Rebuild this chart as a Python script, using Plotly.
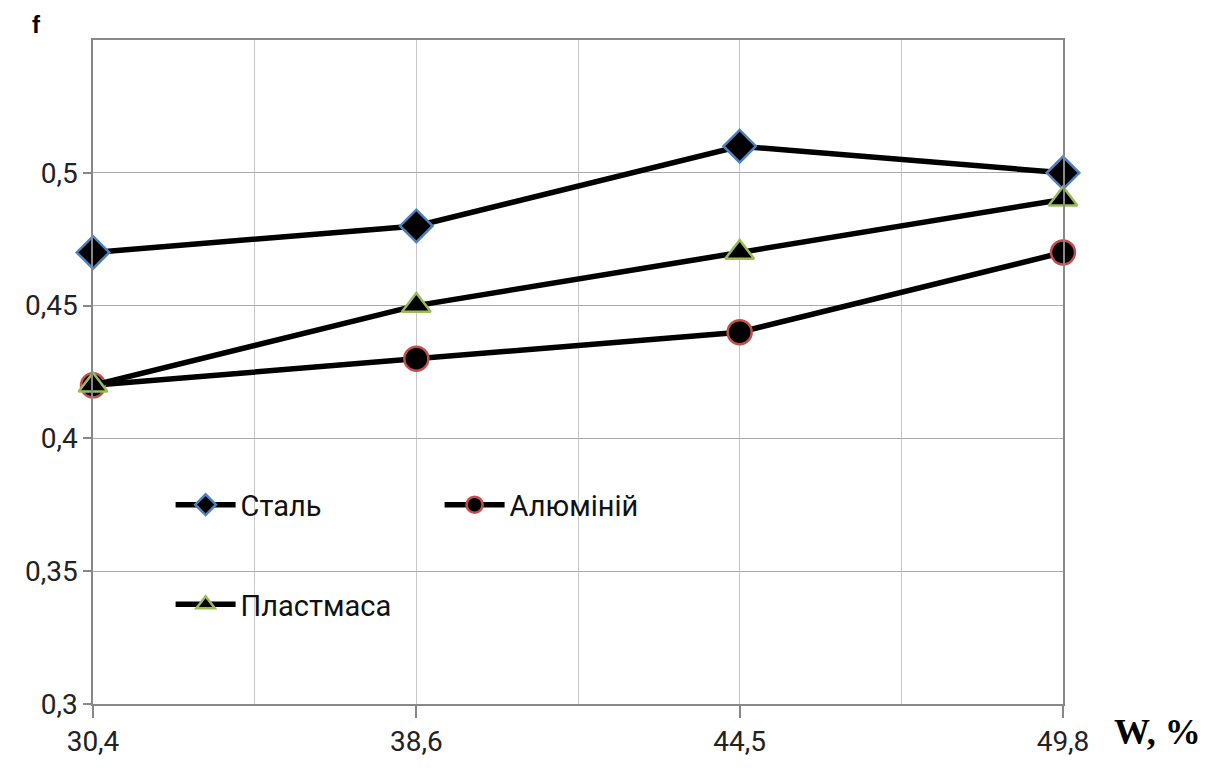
import plotly.graph_objects as go

categories = ["30,4", "38,6", "44,5", "49,8"]
stal = [0.47, 0.48, 0.51, 0.50]
aluminii = [0.42, 0.43, 0.44, 0.47]
plastmasa = [0.42, 0.45, 0.47, 0.49]
y_ticks = [0.3, 0.35, 0.4, 0.45, 0.5]
y_labels = ["0,3", "0,35", "0,4", "0,45", "0,5"]

x = list(range(len(categories)))
FONT = "Liberation Sans Narrow, Roboto, Arial"

fig = go.Figure()
fig.add_trace(go.Scatter(
    x=x, y=stal, name="Сталь", mode="lines+markers", cliponaxis=False,
    line=dict(color="black", width=5.5),
    marker=dict(symbol="diamond", size=25, color="black",
                line=dict(color="#4f81bd", width=2.5)),
    legend="legend"))
fig.add_trace(go.Scatter(
    x=x, y=aluminii, name="Алюміній", mode="lines+markers", cliponaxis=False,
    line=dict(color="black", width=5.5),
    marker=dict(symbol="circle", size=24, color="black",
                line=dict(color="#c0504d", width=2.5)),
    legend="legend"))
fig.add_trace(go.Scatter(
    x=x, y=plastmasa, name="Пластмаса", mode="lines+markers", cliponaxis=False,
    line=dict(color="black", width=5.5),
    marker=dict(symbol="triangle-up", size=25, color="black",
                line=dict(color="#9bbb59", width=2.5)),
    legend="legend2"))

fig.update_layout(
    width=1212, height=762,
    margin=dict(l=85, r=157, t=32, b=63),
    plot_bgcolor="white", paper_bgcolor="white",
    font=dict(family=FONT, size=28, color="#222"),
    legend=dict(orientation="h", x=0.08, y=0.30, xanchor="left", yanchor="middle",
                entrywidth=194, entrywidthmode="pixels", itemwidth=60,
                bgcolor="rgba(0,0,0,0)", font=dict(family=FONT, size=29, color="#111")),
    legend2=dict(orientation="h", x=0.08, y=0.15, xanchor="left", yanchor="middle",
                 itemwidth=60,
                 bgcolor="rgba(0,0,0,0)", font=dict(family=FONT, size=29, color="#111")),
    xaxis=dict(range=[0, 3], tickmode="array", tickvals=x, ticktext=categories,
               showgrid=True, gridcolor="#c8c8c8", gridwidth=1.3,
               minor=dict(dtick=0.5, tick0=0, showgrid=True, gridcolor="#c8c8c8", gridwidth=1.3),
               showline=True, linecolor="#888", linewidth=1.5, mirror=True,
               ticks="outside", ticklen=12, tickcolor="#888", tickwidth=1.5,
               zeroline=False, tickfont=dict(size=28, color="#222")),
    yaxis=dict(range=[0.3, 0.55], tickmode="array", tickvals=y_ticks, ticktext=y_labels,
               showgrid=True, gridcolor="#aaa", gridwidth=1.3,
               showline=True, linecolor="#888", linewidth=1.5, mirror=True,
               ticks="outside", ticklen=8, tickcolor="#888", tickwidth=1.5,
               zeroline=False, tickfont=dict(size=28, color="#222")),
    showlegend=True,
)

fig.add_annotation(text="<b>f</b>", xref="paper", yref="paper", x=-0.058, y=1.0,
                   xanchor="center", yanchor="middle", showarrow=False,
                   font=dict(family="Liberation Sans, Arial", size=24, color="black"),
                   yshift=16)
fig.add_annotation(text="<b>W, %</b>", xref="paper", yref="paper", x=1.05, y=0,
                   xanchor="left", yanchor="top", showarrow=False,
                   font=dict(family="Liberation Serif, Times New Roman", size=36, color="black"),
                   yshift=-6)

fig.write_html("out.html")
